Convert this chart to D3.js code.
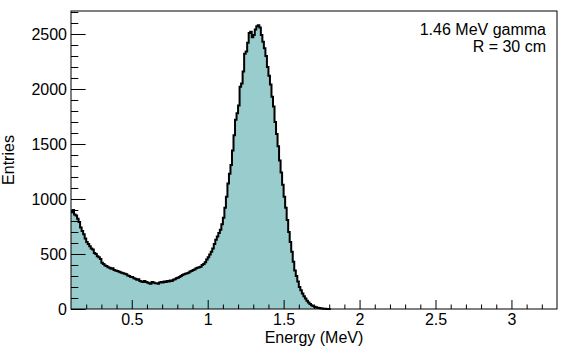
<!DOCTYPE html>
<html>
<head>
<meta charset="utf-8">
<script src="https://cdn.jsdelivr.net/npm/d3@7"></script>
<style>
  body { margin: 0; background: #fff; }
  svg { display: block; font-family: "Liberation Sans", Arial, Helvetica, sans-serif; }
  .axis text { font-size: 16px; fill: #000; }
  .axis line { stroke: #000; stroke-width: 1; }
  .title { font-size: 16px; fill: #000; }
</style>
</head>
<body>
<script>
// histogram: 0.01 MeV bins starting at 0.10 MeV (bins above 1.80 MeV are empty)
const binStart = 0.10;
const binWidth = 0.01;
const counts = [
  880, 900, 860, 850, 820, 790, 740, 710, 680, 640,   // 0.10 - 0.19
  610, 590, 570, 550, 540, 510, 500, 480, 470, 455,   // 0.20
  420, 410, 395, 390, 380, 375, 365, 370, 355, 350,   // 0.30
  345, 340, 335, 330, 325, 320, 315, 305, 300, 290,   // 0.40
  290, 280, 275, 265, 270, 255, 250, 245, 255, 245,   // 0.50
  240, 235, 230, 245, 240, 235, 235, 230, 240, 245,   // 0.60
  240, 250, 245, 255, 250, 260, 255, 265, 270, 280,   // 0.70
  285, 290, 300, 310, 315, 320, 325, 330, 340, 345,   // 0.80
  355, 360, 370, 375, 380, 385, 400, 410, 425, 450,   // 0.90
  470, 495, 520, 550, 590, 630, 660, 690, 720, 770,   // 1.00
  830, 920, 1020, 1140, 1230, 1310, 1440, 1580, 1720, 1780, // 1.10
  1850, 2020, 2050, 2160, 2320, 2340, 2420, 2510, 2520, 2470, // 1.20
  2490, 2540, 2570, 2580, 2560, 2490, 2430, 2370, 2300, 2200, // 1.30
  2120, 2040, 1930, 1840, 1700, 1590, 1480, 1350, 1240, 1130, // 1.40
  1020, 920, 810, 700, 610, 520, 430, 350, 300, 250,  // 1.50
  200, 170, 140, 115, 95, 75, 60, 45, 35, 27,         // 1.60
  20, 15, 11, 8, 6, 4, 3, 2, 1, 1,                    // 1.70
  0
];
const xRange = [0.1, 3.3];
const xMajorTicks = [0.5, 1, 1.5, 2, 2.5, 3];
const yMajorTicks = [0, 500, 1000, 1500, 2000, 2500];
const xLabel = "Energy (MeV)";
const yLabel = "Entries";
const notes = ["1.46 MeV gamma", "R = 30 cm"];

const W = 568, H = 352;
const margin = {top: 11, right: 11, bottom: 43, left: 71};
const width = W - margin.left - margin.right;
const height = H - margin.top - margin.bottom;

const svg = d3.select("body").append("svg")
    .attr("width", W)
    .attr("height", H);
const g = svg.append("g")
    .attr("transform", `translate(${margin.left},${margin.top})`);

const x = d3.scaleLinear().domain(xRange).range([0, width]);
const y = d3.scaleLinear().domain([0, d3.max(counts) * 1.05]).range([height, 0]);

// step outline points
const pts = [];
counts.forEach((c, i) => {
  const lo = binStart + i * binWidth;
  pts.push([lo, c], [lo + binWidth, c]);
});

const area = d3.area().x(d => x(d[0])).y0(y(0)).y1(d => y(d[1]));
const line = d3.line().x(d => x(d[0])).y(d => y(d[1]));

g.append("path").datum(pts)
    .attr("d", area)
    .attr("fill", "#99cccc");
g.append("path").datum(pts)
    .attr("d", line)
    .attr("fill", "none")
    .attr("stroke", "#000")
    .attr("stroke-width", 2)
    .attr("stroke-linejoin", "miter");

// x axis: majors + minors, ticks pointing inward
const xMinor = d3.range(2, 33).map(i => i / 10).filter(v => !xMajorTicks.some(m => Math.abs(m - v) < 1e-6));
g.append("g").attr("class", "axis")
    .attr("transform", `translate(0,${height})`)
    .call(d3.axisBottom(x).tickValues(xMinor).tickSize(-4.5).tickFormat(""))
    .call(a => a.select(".domain").remove());
g.append("g").attr("class", "axis")
    .attr("transform", `translate(0,${height})`)
    .call(d3.axisBottom(x).tickValues(xMajorTicks).tickSize(-9).tickPadding(5).tickFormat(d3.format("")))
    .call(a => a.select(".domain").remove());

// y axis
const yMinor = d3.range(1, 28).map(i => i * 100).filter(v => v % 500 !== 0);
g.append("g").attr("class", "axis")
    .call(d3.axisLeft(y).tickValues(yMinor).tickSize(-7.3).tickFormat(""))
    .call(a => a.select(".domain").remove());
g.append("g").attr("class", "axis")
    .call(d3.axisLeft(y).tickValues(yMajorTicks).tickSize(-14.6).tickPadding(4).tickFormat(d3.format("d")))
    .call(a => a.select(".domain").remove());

// frame
g.append("rect")
    .attr("width", width).attr("height", height)
    .attr("fill", "none")
    .attr("stroke", "#000")
    .attr("stroke-width", 1);

// axis titles
g.append("text").attr("class", "title")
    .attr("x", width / 2).attr("y", height + 34)
    .attr("text-anchor", "middle")
    .text(xLabel);
g.append("text").attr("class", "title")
    .attr("transform", `translate(${-57},${height / 2}) rotate(-90)`)
    .attr("text-anchor", "middle")
    .text(yLabel);

// annotation
g.selectAll(".note").data(notes).enter().append("text")
    .attr("class", "title note")
    .attr("x", width - 11)
    .attr("y", (d, i) => 24 + i * 16.7)
    .attr("text-anchor", "end")
    .text(d => d);
</script>
</body>
</html>
